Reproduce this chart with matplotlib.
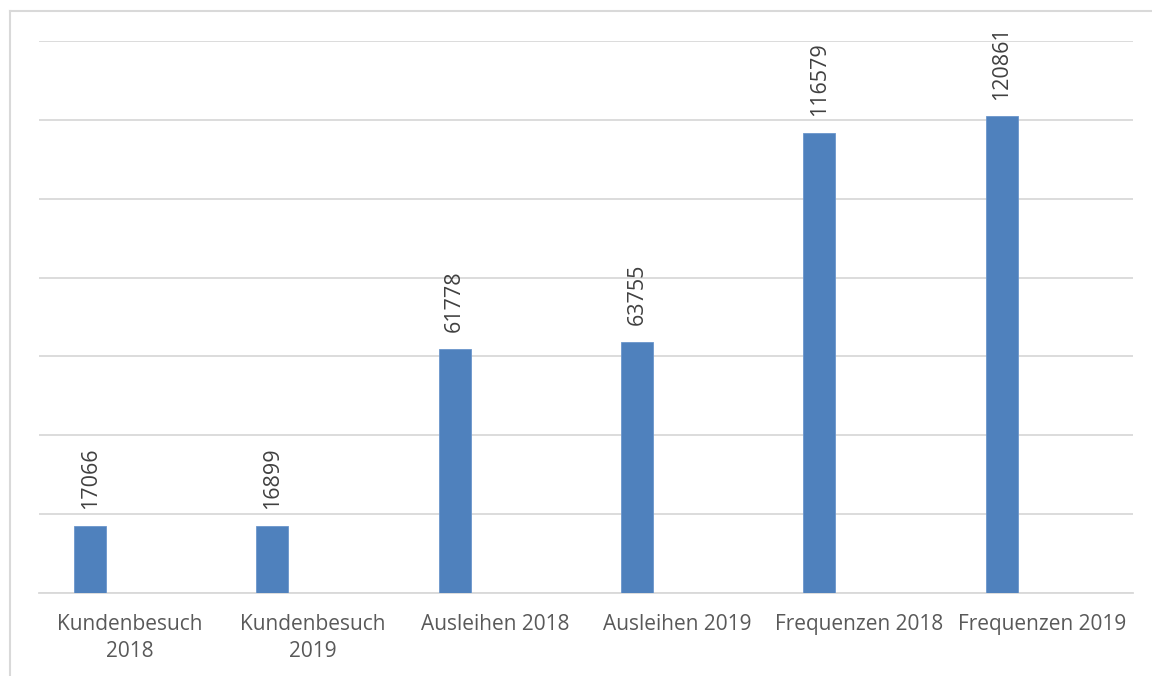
import matplotlib.pyplot as plt
from matplotlib.lines import Line2D
import numpy as np

# data
categories = ["Kundenbesuch\n2018", "Kundenbesuch\n2019", "Ausleihen 2018",
              "Ausleihen 2019", "Frequenzen 2018", "Frequenzen 2019"]
values = [17066, 16899, 61778, 63755, 116579, 120861]
y_ticks = [0, 20000, 40000, 60000, 80000, 100000, 120000, 140000]

plt.rcParams['font.family'] = ['Open Sans', 'DejaVu Sans']

fig = plt.figure(figsize=(11.52, 6.76), dpi=100)
ax = fig.add_axes([39/1152, 1 - 593/676, 1094/1152, 552/676])

x = np.arange(len(categories))
ax.bar(x - 0.22, values, width=0.176, color='#4f81bd', edgecolor='#6b96cc', linewidth=0.6, zorder=3)

for xi, v in zip(x, values):
    ax.text(xi - 0.22, v + 4300, str(v), rotation=90, ha='center', va='bottom',
            fontsize=15.5, color='#404040')

ax.set_xlim(-0.5, len(categories) - 0.5)
ax.set_ylim(0, 140000)
ax.set_yticks(y_ticks)
ax.set_yticklabels([])
ax.tick_params(axis='y', length=0)
ax.grid(axis='y', color='#d9d9d9', linewidth=1.3, zorder=0)
ax.set_xticks(x)
ax.set_xticklabels(categories, fontsize=15, color='#595959', linespacing=1.4)
ax.tick_params(axis='x', length=0, pad=15)
for s in ['top', 'right', 'left']:
    ax.spines[s].set_visible(False)
ax.spines['bottom'].set_color('#d9d9d9')
ax.spines['bottom'].set_linewidth(1.3)

# outer chart frame (only left and top visible in the picture)
fig.add_artist(Line2D([10/1152, 10/1152], [0, 1 - 11/676], transform=fig.transFigure,
                      color='#d9d9d9', linewidth=1.5))
fig.add_artist(Line2D([10/1152, 1], [1 - 11/676, 1 - 11/676], transform=fig.transFigure,
                      color='#d9d9d9', linewidth=1.5))

fig.savefig('out.png', dpi=100)
